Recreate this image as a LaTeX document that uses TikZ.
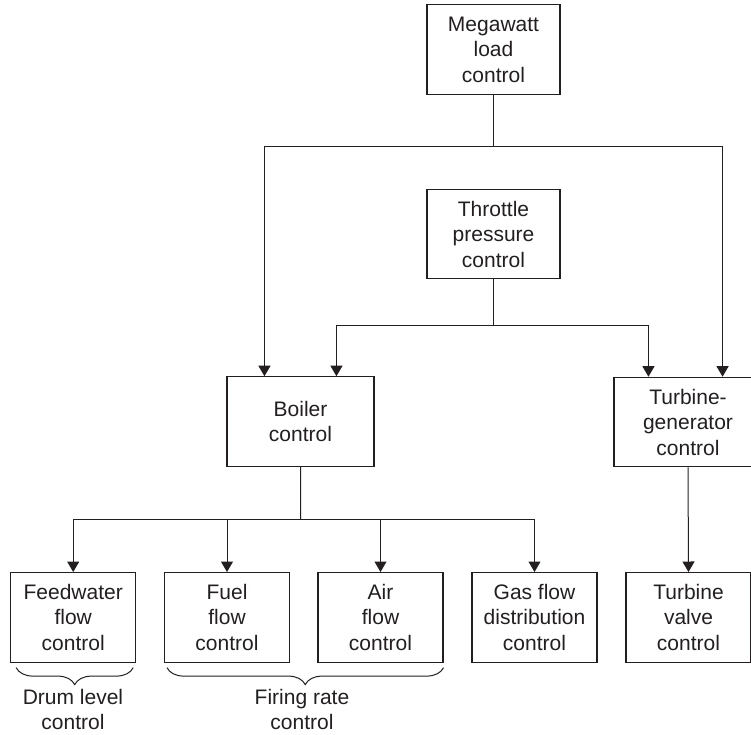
\documentclass[tikz,border=0pt]{standalone}
\usepackage{fontspec}
\setmainfont{Liberation Sans}
\usetikzlibrary{arrows.meta,decorations.pathreplacing}
\definecolor{ink}{RGB}{35,31,32}
\begin{document}
\begin{tikzpicture}[x=1pt,y=-1pt,
  box/.style={draw=ink,line width=1.1pt,align=center,inner sep=0pt,text=ink,
    font=\fontsize{21}{25.5}\selectfont},
  wide/.style={box,minimum width=147pt,minimum height=89.5pt},
  mid/.style={box,minimum width=133pt,minimum height=89.5pt},
  small/.style={box,minimum width=125pt,minimum height=89.5pt},
  conn/.style={draw=ink,line width=1pt},
  arr/.style={conn,-{Triangle[width=12pt,length=10.5pt]}},
  brc/.style={draw=ink,line width=1pt,decorate,decoration={brace,mirror,amplitude=17pt}},
  lbl/.style={align=center,inner sep=0pt,text=ink,font=\fontsize{21}{25}\selectfont}]
\useasboundingbox (0,0) rectangle (751,734);
\clip (0,0) rectangle (751,734);
\fill[white] (0,0) rectangle (751,734);
% boxes
\node[mid] (mw) at (493.5,49.4) {Megawatt\\load\\control};
\node[mid] (tp) at (493.5,234) {Throttle\\pressure\\control};
\node[wide] (bc) at (300.5,421.5) {Boiler\\control};
\node[wide,minimum width=148pt] (tg) at (688,422) {Turbine-\\generator\\control};
\node[small] (fw) at (73.2,617.3) {Feedwater\\flow\\control};
\node[small] (ff) at (227,617.3) {Fuel\\flow\\control};
\node[small] (af) at (380.5,617.3) {Air\\flow\\control};
\node[small] (gf) at (534.5,617.3) {Gas flow\\distribution\\control};
\node[small] (tv) at (688.5,617.3) {Turbine\\valve\\control};
% junctions
\coordinate (j1) at (493.5,146.7);
\coordinate (j2) at (493.5,325.7);
\coordinate (j3) at (300.7,519);
% megawatt connectors
\draw[conn] (mw.south) -- (j1);
\draw[arr] (j1) -| ([xshift=38pt]bc.north west);
\draw[arr] (j1) -| ([xshift=-40pt]tg.north east);
% throttle connectors
\draw[conn] (tp.south) -- (j2);
\draw[arr] (j2) -| ([xshift=110pt]bc.north west);
\draw[arr] (j2) -| ([xshift=35pt]tg.north west);
% boiler connectors
\draw[conn] (bc.south) -- (j3);
\draw[arr] (j3) -| (fw.north);
\draw[arr] (j3) -| (ff.north);
\draw[arr] (j3) -| (af.north);
\draw[arr] (j3) -| (gf.north);
% turbine
\draw[arr] (tg.south) -- (tv.north);
% braces
\draw[brc] ([xshift=6pt,yshift=-5pt]fw.south west) -- ([xshift=-3pt,yshift=-5pt]fw.south east);
\draw[brc] ([xshift=3pt,yshift=-5pt]ff.south west) -- ([yshift=-5pt]af.south east);
\node[lbl] (drum) at (73,709) {Drum level\\control};
\node[lbl] (firing) at (302,709) {Firing rate\\control};
\end{tikzpicture}
\end{document}
